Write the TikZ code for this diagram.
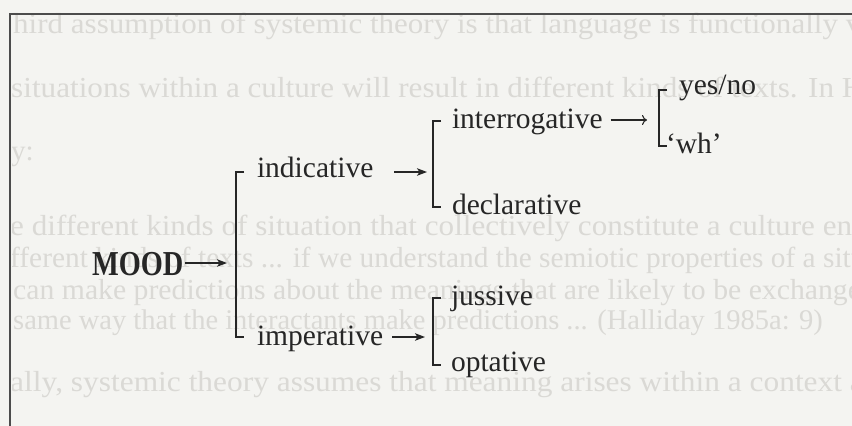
\documentclass[tikz,border=0pt]{standalone}
\usepackage{fontspec}
\setmainfont{Liberation Serif}
\usetikzlibrary{arrows.meta,calc}
\definecolor{paper}{HTML}{F4F4F1}
\definecolor{ink}{HTML}{262626}
\definecolor{ghost}{HTML}{DAD9D5}
\tikzset{
  lbl/.style={anchor=base west,inner sep=0pt,outer sep=0pt,text=ink,font=\fontsize{29.5}{31}\selectfont},
  moodlbl/.style={anchor=base west,inner sep=0pt,outer sep=0pt,text=ink,font=\bfseries\fontsize{35}{37}\selectfont,xscale=0.81},
  ghosttxt/.style={anchor=base west,inner sep=0pt,text=ghost,font=\fontsize{29}{31}\selectfont},
  brk/.style={draw=ink,line width=1.3pt},
  frame/.style={draw=black!70,line width=1.8pt},
  sarr/.style={draw=ink,line width=1.3pt,-{Stealth[length=10pt,width=7.5pt,inset=2.5pt]}},
  oarr/.style={draw=ink,line width=1.1pt,-{To[length=5pt,width=10pt]}}
}
\begin{document}
\begin{tikzpicture}[x=1pt,y=-1pt]
\fill[paper] (0,0) rectangle (852,426);
\useasboundingbox (0,0) rectangle (852,426);
% faint text of the page behind the figure
\begin{scope}
\clip (12,0) rectangle (852,426);
\node[ghosttxt,xscale=1.07] (g1) at (13,33) {hird assumption of systemic theory is that language is functionally v};
\node[ghosttxt,xscale=1.075] (g2) at (11,97) {situations within a culture will result in different kinds of texts. In H};
\node[ghosttxt] (g3) at (11,160) {y:};
\node[ghosttxt,xscale=1.074] (g4) at (10,235) {e different kinds of situation that collectively constitute a culture eng};
\node[ghosttxt,xscale=1.013] (g5) at (10,267) {fferent kinds of texts ... if we understand the semiotic properties of a situ};
\node[ghosttxt,xscale=1.025] (g6) at (13,299) {can make predictions about the meanings that are likely to be exchange};
\node[ghosttxt,font=\fontsize{28.5}{30}\selectfont] (g7) at (13,329) {same way that the interactants make predictions ... (Halliday 1985a: 9)};
\node[ghosttxt,xscale=1.083] (g8) at (10,391) {ally, systemic theory assumes that meaning arises within a context a};
\end{scope}
% frame
\draw[frame] (10,426) -- (10,14) -- (852,14);
% labels
\node[moodlbl] (mood) at (92,275) {MOOD};
\node[lbl] (ind) at (257,177) {indicative};
\node[lbl] (imp) at (257,345) {imperative};
\node[lbl] (int) at (452,128) {interrogative};
\node[lbl] (dec) at (452,214) {declarative};
\node[lbl] (yn) at (679,94) {yes/no};
\node[lbl] (wh) at (666,153) {‘wh’};
\node[lbl] (jus) at (451,305) {jussive};
\node[lbl] (opt) at (451,371) {optative};
% bracket points
\coordinate (b1t) at (236,172); \coordinate (b1b) at (236,337); \coordinate (b1m) at (236,263);
\coordinate (b2t) at (433,121); \coordinate (b2b) at (433,207); \coordinate (b2m) at (433,172);
\coordinate (b3t) at (659,90);  \coordinate (b3b) at (659,146); \coordinate (b3m) at (659,120);
\coordinate (b4t) at (433,298); \coordinate (b4b) at (433,365); \coordinate (b4m) at (433,337);
% brackets
\draw[brk] ($(b1t)+(8,0)$) -- (b1t) -- (b1b) -- ($(b1b)+(8,0)$);
\draw[brk] ($(b2t)+(8,0)$) -- (b2t) -- (b2b) -- ($(b2b)+(8,0)$);
\draw[brk] ($(b3t)+(8,0)$) -- (b3t) -- (b3b) -- ($(b3b)+(8,0)$);
\draw[brk] ($(b4t)+(8,0)$) -- (b4t) -- (b4b) -- ($(b4b)+(8,0)$);
% arrows
\draw[sarr,shorten <=2pt,shorten >=9pt] (mood.east |- b1m) -- (b1m);
\draw[sarr,shorten <=21pt,shorten >=6pt] (ind.east |- b2m) -- (b2m);
\draw[sarr,shorten <=9pt,shorten >=8pt] (imp.east |- b4m) -- (b4m);
\draw[oarr,shorten <=8pt,shorten >=12pt] (int.east |- b3m) -- (b3m);
\end{tikzpicture}
\end{document}
